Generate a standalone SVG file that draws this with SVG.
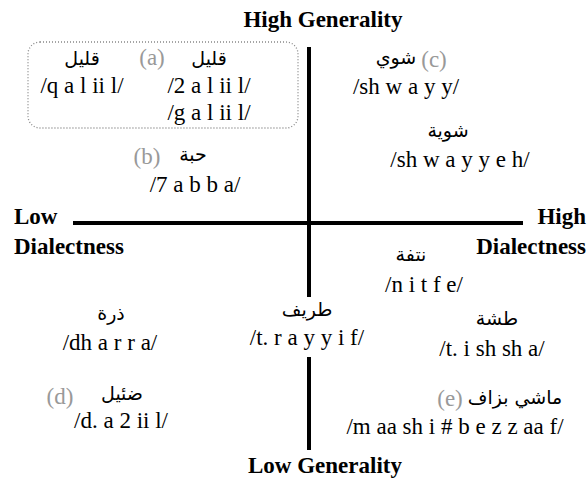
<svg xmlns="http://www.w3.org/2000/svg" width="587" height="479" viewBox="0 0 587 479">
<style>
.ax{font-family:"Liberation Serif",serif;font-weight:bold;font-size:23px;fill:#000}
.tr{font-family:"Liberation Serif",serif;font-size:23px;fill:#000;text-anchor:middle}
.ar{font-family:"DejaVu Sans","Noto Sans",sans-serif;font-size:19px;fill:#000;text-anchor:middle}
.lb{font-family:"Liberation Serif",serif;font-size:23px;fill:#999;text-anchor:middle}
.axis{stroke:#000;stroke-width:4;fill:none}
</style>
<rect width="587" height="479" fill="#fff"/>
<g id="connectors">
<line class="axis" x1="309" y1="47" x2="309" y2="297"/>
<line class="axis" x1="309" y1="357" x2="309" y2="450"/>
<line class="axis" x1="73" y1="223" x2="523" y2="223"/>
</g>
<g id="axis-labels">
<text class="ax" x="323" y="27" text-anchor="middle">High Generality</text>
<text class="ax" x="325" y="473" text-anchor="middle">Low Generality</text>
<text class="ax" x="14" y="224">Low</text>
<text class="ax" x="14" y="254">Dialectness</text>
<text class="ax" x="586" y="224" text-anchor="end">High</text>
<text class="ax" x="586" y="254" text-anchor="end">Dialectness</text>
</g>
<g id="group-a">
<rect x="28" y="42" width="270" height="86" rx="12" fill="none" stroke="#888" stroke-width="1.3" stroke-dasharray="1,2"/>
<text class="lb" x="152" y="65">(a)</text>
<text class="ar" x="82" y="65">قليل</text>
<text class="tr" x="82" y="93">/q a l ii l/</text>
<text class="ar" x="209" y="65">قليل</text>
<text class="tr" x="209" y="93">/2 a l ii l/</text>
<text class="tr" x="209" y="120">/g a l ii l/</text>
</g>
<g id="item-b">
<text class="lb" x="147" y="164">(b)</text>
<text class="ar" x="193" y="161">حبة</text>
<text class="tr" x="195" y="192">/7 a b b a/</text>
</g>
<g id="item-c">
<text class="lb" x="434" y="67">(c)</text>
<text class="ar" x="396" y="64">شوي</text>
<text class="tr" x="406" y="94">/sh w a y y/</text>
</g>
<g id="item-shwayyeh">
<text class="ar" x="448" y="137">شوية</text>
<text class="tr" x="460" y="167">/sh w a y y e h/</text>
</g>
<g id="item-nitfe">
<text class="ar" x="411" y="261">نتفة</text>
<text class="tr" x="424" y="292">/n i t f e/</text>
</g>
<g id="item-trayyif">
<text class="ar" x="307" y="316">طريف</text>
<text class="tr" x="307" y="345">/t. r a y y i f/</text>
</g>
<g id="item-dharra">
<text class="ar" x="111" y="320">ذرة</text>
<text class="tr" x="110" y="350">/dh a r r a/</text>
</g>
<g id="item-tishsha">
<text class="ar" x="497" y="325">طشة</text>
<text class="tr" x="492" y="356">/t. i sh sh a/</text>
</g>
<g id="item-d">
<text class="lb" x="60" y="404">(d)</text>
<text class="ar" x="122" y="400">ضئيل</text>
<text class="tr" x="121" y="428">/d. a 2 ii l/</text>
</g>
<g id="item-e">
<text class="lb" x="450" y="406">(e)</text>
<text class="ar" x="515" y="404">ماشي بزاف</text>
<text class="tr" x="455" y="434">/m aa sh i # b e z z aa f/</text>
</g>
</svg>
